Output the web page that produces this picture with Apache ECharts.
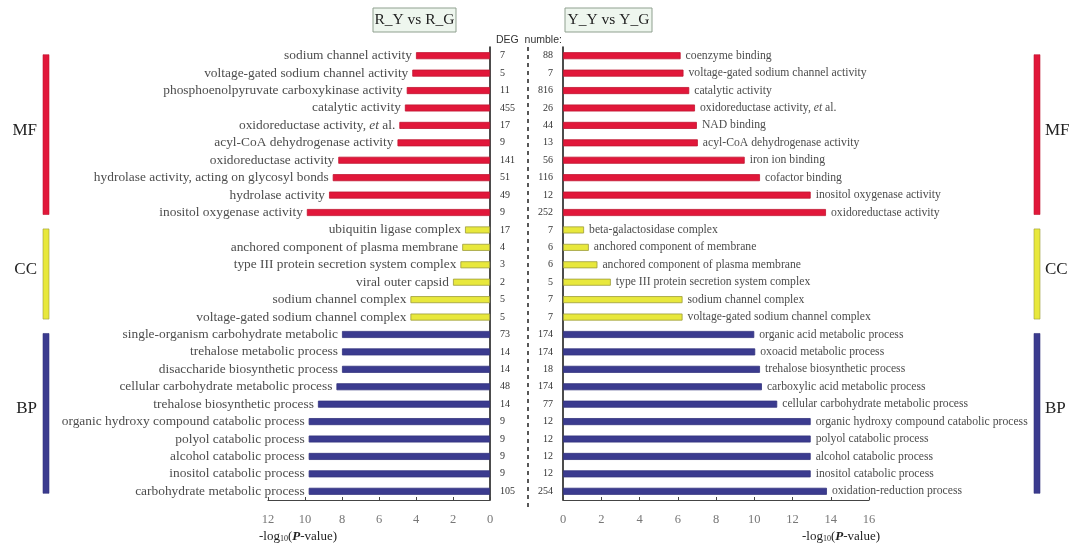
<!DOCTYPE html>
<html>
<head>
<meta charset="utf-8">
<script src="https://cdn.jsdelivr.net/npm/echarts@6/dist/echarts.min.js"></script>
<style>
  html, body { margin: 0; padding: 0; background: #ffffff; }
  #chart { width: 1077px; height: 545px; }
</style>
</head>
<body>
<div id="chart"></div>
<script>
// GO enrichment terms, -log10(P) and DEG counts, top row first
const leftTerms = [
  'sodium channel activity',
  'voltage-gated sodium channel activity',
  'phosphoenolpyruvate carboxykinase activity',
  'catalytic activity',
  'oxidoreductase activity, et al.',
  'acyl-CoA dehydrogenase activity',
  'oxidoreductase activity',
  'hydrolase activity, acting on glycosyl bonds',
  'hydrolase activity',
  'inositol oxygenase activity',
  'ubiquitin ligase complex',
  'anchored component of plasma membrane',
  'type III protein secretion system complex',
  'viral outer capsid',
  'sodium channel complex',
  'voltage-gated sodium channel complex',
  'single-organism carbohydrate metabolic',
  'trehalose metabolic process',
  'disaccharide biosynthetic process',
  'cellular carbohydrate metabolic process',
  'trehalose biosynthetic process',
  'organic hydroxy compound catabolic process',
  'polyol catabolic process',
  'alcohol catabolic process',
  'inositol catabolic process',
  'carbohydrate metabolic process'
];
const leftValues = [4.0, 4.2, 4.5, 4.6, 4.9, 5.0, 8.2, 8.5, 8.7, 9.9,
                    1.35, 1.5, 1.6, 2.0, 4.3, 4.3,
                    8.0, 8.0, 8.0, 8.3, 9.3, 9.8, 9.8, 9.8, 9.8, 9.8];
const leftDeg = [7, 5, 11, 455, 17, 9, 141, 51, 49, 9,
                 17, 4, 3, 2, 5, 5,
                 73, 14, 14, 48, 14, 9, 9, 9, 9, 105];

const rightTerms = [
  'coenzyme binding',
  'voltage-gated sodium channel activity',
  'catalytic activity',
  'oxidoreductase activity, et al.',
  'NAD binding',
  'acyl-CoA dehydrogenase activity',
  'iron ion binding',
  'cofactor binding',
  'inositol oxygenase activity',
  'oxidoreductase activity',
  'beta-galactosidase complex',
  'anchored component of membrane',
  'anchored component of plasma membrane',
  'type III protein secretion system complex',
  'sodium channel complex',
  'voltage-gated sodium channel complex',
  'organic acid metabolic process',
  'oxoacid metabolic process',
  'trehalose biosynthetic process',
  'carboxylic acid metabolic process',
  'cellular carbohydrate metabolic process',
  'organic hydroxy compound catabolic process',
  'polyol catabolic process',
  'alcohol catabolic process',
  'inositol catabolic process',
  'oxidation-reduction process'
];
const rightValues = [6.15, 6.3, 6.6, 6.9, 7.0, 7.05, 9.5, 10.3, 12.95, 13.75,
                     1.1, 1.35, 1.8, 2.5, 6.25, 6.25,
                     10.0, 10.05, 10.3, 10.4, 11.2, 12.95, 12.95, 12.95, 12.95, 13.8];
const rightDeg = [88, 7, 816, 26, 44, 13, 56, 116, 12, 252,
                  7, 6, 6, 5, 7, 7,
                  174, 174, 18, 174, 77, 12, 12, 12, 12, 254];

const groupNames = ['MF', 'CC', 'BP'];
const groupSizes = [10, 6, 10];
const leftAxisMax = 12;
const rightAxisMax = 16;
const tickStep = 2;
const panelTitles = ['R_Y vs R_G', 'Y_Y vs Y_G'];

const groupColors = ['#e1173a', '#e8e83c', '#3b3b8f'];
const groupBorders = ['#c01530', '#9c9c3a', '#34347e'];
const SERIF = '"Liberation Serif", "Times New Roman", serif';

// row index -> group index
const rowGroup = [];
const groupRanges = [];
groupSizes.forEach((n, g) => {
  const start = rowGroup.length;
  for (let i = 0; i < n; i++) rowGroup.push(g);
  groupRanges.push([0, start, start + n - 1]);
});

function termLabel(t) {
  return t.replace('et al.', '{it|et} al.');
}

function barData(values) {
  return values.map((v, i) => ({
    value: v,
    itemStyle: {
      color: groupColors[rowGroup[i]],
      borderColor: groupBorders[rowGroup[i]],
      borderWidth: 0.8
    }
  }));
}

function bracketSeries(axisIndex, barX, textX, textAlign) {
  return {
    type: 'custom',
    xAxisIndex: axisIndex,
    yAxisIndex: axisIndex,
    silent: true,
    clip: false,
    z: 5,
    data: groupRanges,
    encode: { x: 0, y: 1 },
    renderItem(params, api) {
      const y1 = api.coord([0, api.value(1)])[1];
      const y2 = api.coord([0, api.value(2)])[1];
      const g = params.dataIndex;
      return {
        type: 'group',
        children: [
          {
            type: 'rect',
            shape: { x: barX, y: y1 - 1, width: 6, height: y2 - y1 + 3 },
            style: { fill: groupColors[g], stroke: groupBorders[g], lineWidth: 0.6 }
          },
          {
            type: 'text',
            style: {
              text: groupNames[g], x: textX, y: (y1 + y2) / 2 - 4,
              align: textAlign, verticalAlign: 'middle',
              font: '17px ' + SERIF, fill: '#222'
            }
          }
        ]
      };
    }
  };
}

function axisTitle(x) {
  return {
    type: 'text',
    x: x, y: 530,
    style: {
      text: '-log{sub|10}({b|P}-value)',
      font: '13px ' + SERIF,
      fill: '#222',
      rich: {
        sub: { fontSize: 8, lineHeight: 8, verticalAlign: 'bottom', fontFamily: SERIF, fill: '#222' },
        b: { fontSize: 13, fontWeight: 'bold', fontStyle: 'italic', fontFamily: SERIF, fill: '#222' }
      }
    }
  };
}

function titleBox(x, w, text) {
  return {
    type: 'group',
    children: [
      {
        type: 'rect',
        shape: { x: x, y: 8, width: w, height: 24 },
        style: { fill: '#eef6ee', stroke: '#8fa08f', lineWidth: 1 }
      },
      {
        type: 'text',
        style: {
          text: text, x: x + w / 2, y: 20, align: 'center', verticalAlign: 'middle',
          font: '15.5px ' + SERIF, fill: '#222'
        }
      }
    ]
  };
}

const valueAxisBase = {
  type: 'value',
  min: 0,
  interval: tickStep,
  axisLine: { show: true, lineStyle: { color: '#444', width: 1.2 } },
  axisTick: { show: true, inside: true, length: 3, lineStyle: { color: '#444', width: 1 } },
  splitLine: { show: false },
  axisLabel: { color: '#777', fontSize: 12.5, margin: 13, fontFamily: SERIF }
};

const chart = echarts.init(document.getElementById('chart'), null, { renderer: 'canvas' });

chart.setOption({
  backgroundColor: '#ffffff',
  animation: false,
  grid: [
    { left: 268, width: 222, top: 47, height: 453, outerBoundsMode: 'none' },
    { left: 563, width: 306, top: 47, height: 453, outerBoundsMode: 'none' }
  ],
  xAxis: [
    Object.assign({}, valueAxisBase, { gridIndex: 0, max: leftAxisMax, inverse: true }),
    Object.assign({}, valueAxisBase, { gridIndex: 1, max: rightAxisMax })
  ],
  yAxis: [
    {
      gridIndex: 0, type: 'category', data: leftTerms, inverse: true, position: 'right',
      axisLine: { show: true, lineStyle: { color: '#111', width: 1.5 } },
      axisTick: { show: false },
      axisLabel: {
        interval: 0, align: 'left', margin: 10, fontSize: 10, color: '#333', fontFamily: SERIF,
        formatter: (v, i) => String(leftDeg[i])
      }
    },
    {
      gridIndex: 1, type: 'category', data: rightTerms, inverse: true, position: 'left',
      axisLine: { show: true, lineStyle: { color: '#111', width: 1.5 } },
      axisTick: { show: false },
      axisLabel: {
        interval: 0, align: 'right', margin: 10, fontSize: 10, color: '#333', fontFamily: SERIF,
        formatter: (v, i) => String(rightDeg[i])
      }
    }
  ],
  series: [
    {
      type: 'bar', xAxisIndex: 0, yAxisIndex: 0, barWidth: 7,
      data: barData(leftValues),
      label: {
        show: true, position: 'left', distance: 4,
        fontFamily: SERIF, fontSize: 13.4, color: '#4d4d4d',
        formatter: p => termLabel(leftTerms[p.dataIndex]),
        rich: { it: { fontStyle: 'italic', fontFamily: SERIF, fontSize: 13.4, color: '#4d4d4d' } }
      }
    },
    {
      type: 'bar', xAxisIndex: 1, yAxisIndex: 1, barWidth: 7,
      data: barData(rightValues),
      label: {
        show: true, position: 'right', distance: 5,
        fontFamily: SERIF, fontSize: 11.7, color: '#4d4d4d',
        formatter: p => termLabel(rightTerms[p.dataIndex]),
        rich: { it: { fontStyle: 'italic', fontFamily: SERIF, fontSize: 11.7, color: '#4d4d4d' } }
      }
    },
    bracketSeries(0, 43, 37, 'right'),
    bracketSeries(1, 1034, 1045, 'left')
  ],
  graphic: [
    titleBox(373, 83, panelTitles[0]),
    titleBox(565, 87, panelTitles[1]),
    {
      type: 'text', x: 496, y: 40,
      style: { text: 'DEG  numble:', font: '10.5px "Liberation Sans", Arial, sans-serif', fill: '#333', verticalAlign: 'middle' }
    },
    {
      type: 'line',
      shape: { x1: 528, y1: 47, x2: 528, y2: 510 },
      style: { stroke: '#222', lineWidth: 1.5, lineDash: [4, 4] }
    },
    axisTitle(259),
    axisTitle(802)
  ]
});
</script>
</body>
</html>
